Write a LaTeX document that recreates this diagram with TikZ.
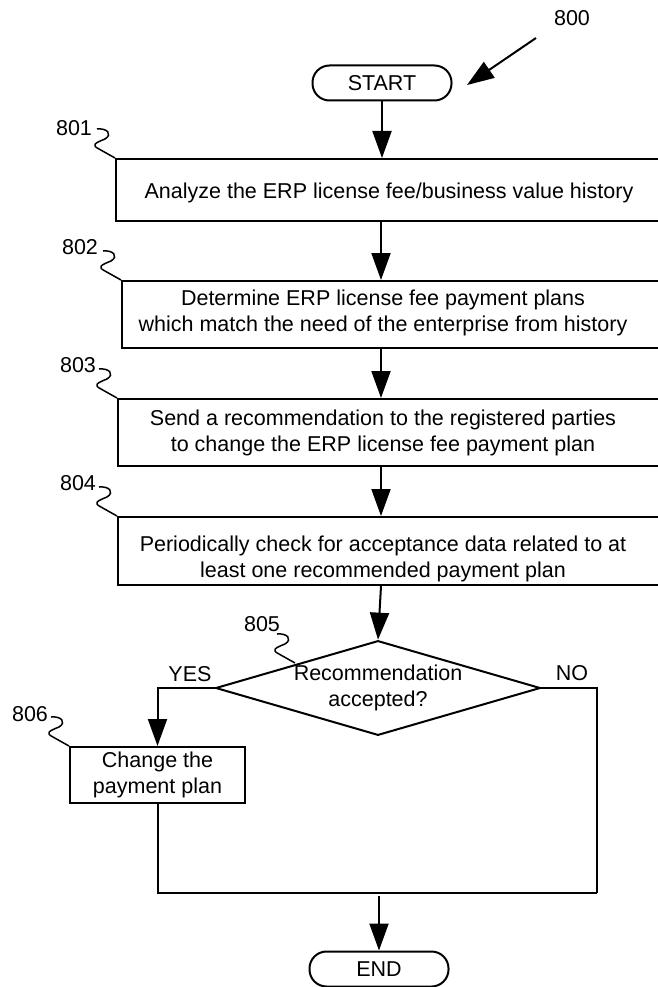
\documentclass[tikz,border=0pt]{standalone}
\usepackage{fontspec}
\setmainfont{Liberation Sans}
\usetikzlibrary{arrows.meta,shapes.geometric,calc}
\begin{document}
\begin{tikzpicture}[x=1pt,y=-1pt, line width=2pt,
 box/.style={draw, rectangle, anchor=north west, inner sep=0pt, minimum width=600pt},
 txt/.style={align=center, font=\fontsize{21.5}{25.5}\selectfont, inner sep=0pt},
 lbl/.style={font=\fontsize{21.5}{26}\selectfont, inner sep=0pt},
 term/.style={draw, rounded corners=17pt, minimum width=139pt, minimum height=35pt, inner sep=0pt, font=\fontsize{21.5}{26}\selectfont},
 arr/.style={-{Triangle[length=27pt,width=19pt]}},
 squig/.style={line width=1.5pt}]
\useasboundingbox (0,0) rectangle (658,987);
\clip (0,0) rectangle (658,987);
% squiggle macro
\def\squiggle#1{%
  \draw[squig] ($(#1)+(-18,-29)$) .. controls ($(#1)+(-8,-30)$) and ($(#1)+(-2,-24)$) .. ($(#1)+(-10,-19)$)
    .. controls ($(#1)+(-20,-15)$) and ($(#1)+(-24,-13)$) .. ($(#1)+(-16,-9)$) -- (#1);}

% reference arrow
\node[lbl] (n800) at (572,18) {800};
\coordinate (a800) at (536,38);
\coordinate (p800) at (467,85);
\draw[arr] (a800) -- (p800);

\node[term] (start) at (382,83) {START};

\node[box, minimum height=62pt] (b1) at (115,158) {};
\node[txt] (t1) at (389,193) {Analyze the ERP license fee/business value history};
\node[lbl] (l1) at (74,128) {801};

\node[box, minimum height=67pt] (b2) at (121,280) {};
\node[txt] (t2) at (383,313) {Determine ERP license fee payment plans\\which match the need of the enterprise from history};
\node[lbl] (l2) at (80,247) {802};

\node[box, minimum height=67pt] (b3) at (117,398) {};
\node[txt] (t3) at (383,433) {Send a recommendation to the registered parties\\to change the ERP license fee payment plan};
\node[lbl] (l3) at (78,365) {803};

\node[box, minimum height=68pt] (b4) at (117,516) {};
\node[txt] (t4) at (383,559) {Periodically check for acceptance data related to at\\least one recommended payment plan};
\node[lbl] (l4) at (78,483) {804};

\node[draw, diamond, aspect=3.43, minimum width=322pt, minimum height=94pt, inner sep=0pt, txt] (d) at (378,688) {Recommendation\\accepted?};
\node[lbl] (l5) at (262,624) {805};
\node[lbl] (yes) at (190,674) {YES};
\node[lbl] (no) at (572,673) {NO};

\node[draw, rectangle, minimum width=175pt, minimum height=56pt, inner sep=0pt, txt] (b6) at (157.5,775) {Change the\\payment plan};
\node[lbl] (l6) at (30,714) {806};

\node[term] (end) at (379,969) {END};

% squiggles
\coordinate (s1) at (b1.north west);
\coordinate (s2) at (b2.north west);
\coordinate (s3) at (b3.north west);
\coordinate (s4) at (b4.north west);
\coordinate (s5) at (295,663);
\coordinate (s6) at (b6.north west);
\squiggle{s1}
\squiggle{s2}
\squiggle{s3}
\squiggle{s4}
\squiggle{s5}
\squiggle{s6}

% connectors
\coordinate (cx) at (381,0);
\draw[arr] (start.south) -- (start.south |- b1.north);
\draw[arr] (cx |- b1.south) -- (cx |- b2.north);
\draw[arr] (cx |- b2.south) -- (cx |- b3.north);
\draw[arr] (cx |- b3.south) -- (cx |- b4.north);
\draw[arr] (cx |- b4.south) -- (d.north);
\draw[arr] (d.west) -| (b6.north);
\coordinate (c1) at (597,893);
\coordinate (m) at (379,896);
\draw (d.east) -| (c1);
\draw (b6.south) |- (c1);
\draw[arr] (m) -- (end.north);
\end{tikzpicture}
\end{document}
